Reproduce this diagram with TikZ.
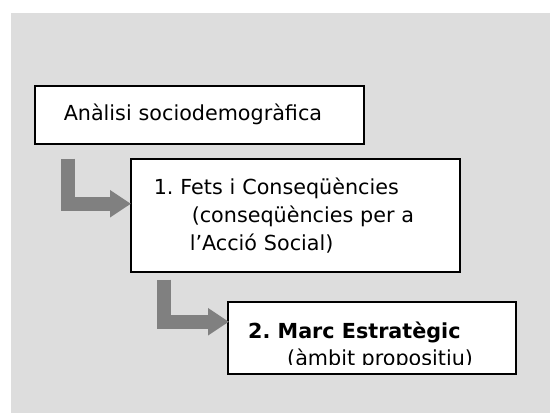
\documentclass[tikz,border=0pt]{standalone}
\usepackage{fontspec}
\setmainfont{DejaVu Sans}
\usepackage{tikz}
\usetikzlibrary{arrows.meta}
\usetikzlibrary{positioning}
\definecolor{panelgray}{HTML}{DDDDDD}
\definecolor{arrowgray}{HTML}{808080}
\frenchspacing

\begin{document}
\begin{tikzpicture}[x=1pt,y=-1pt,
	box/.style={draw=black,line width=1.5pt,fill=white,anchor=north west,align=left,inner ysep=0pt},
	boxfont/.style={font=\fontsize{20.7}{28}\selectfont},
	bentarrow/.style={draw=arrowgray,line width=14pt,-{Triangle[length=21pt,width=26pt]}}]
	\useasboundingbox (0,0) rectangle (550,413);
	\fill[panelgray] (11,13) rectangle (550,413);
	% boxes
	\node[box,boxfont,text width=271pt,inner xsep=29pt,minimum height=58pt] (analisi) at (34,85) {Anàlisi sociodemogràfica};
	\node[box,boxfont,text width=283pt,inner xsep=23pt,minimum height=113pt] (fets) at (130,158)
		{1. Fets i Conseqüències\\\hspace*{38pt}(conseqüències per a\\\hspace*{36pt}l’Acció Social)};
	\node[box,minimum width=288pt,minimum height=72pt] (marc) at (227,301) {};
	\begin{scope}
		\clip ([shift={(1,1)}]marc.north west) rectangle ([shift={(-1,-10)}]marc.south east);
		\node[anchor=north west,align=left,inner sep=0pt,font=\fontsize{20.7}{27}\selectfont] (marctext) at (248,322)
			{\textbf{2. Marc Estratègic}\\\hspace*{39pt}(àmbit propositiu)};
	\end{scope}
	% arrows
	\draw[bentarrow] ([xshift=33.5pt,yshift=-14pt]analisi.south west) |- ([xshift=1pt,yshift=11.5pt]fets.west);
	\draw[bentarrow] ([xshift=33.5pt,yshift=-7pt]fets.south west) |- ([xshift=2pt,yshift=16pt]marc.west);
\end{tikzpicture}
\end{document}
